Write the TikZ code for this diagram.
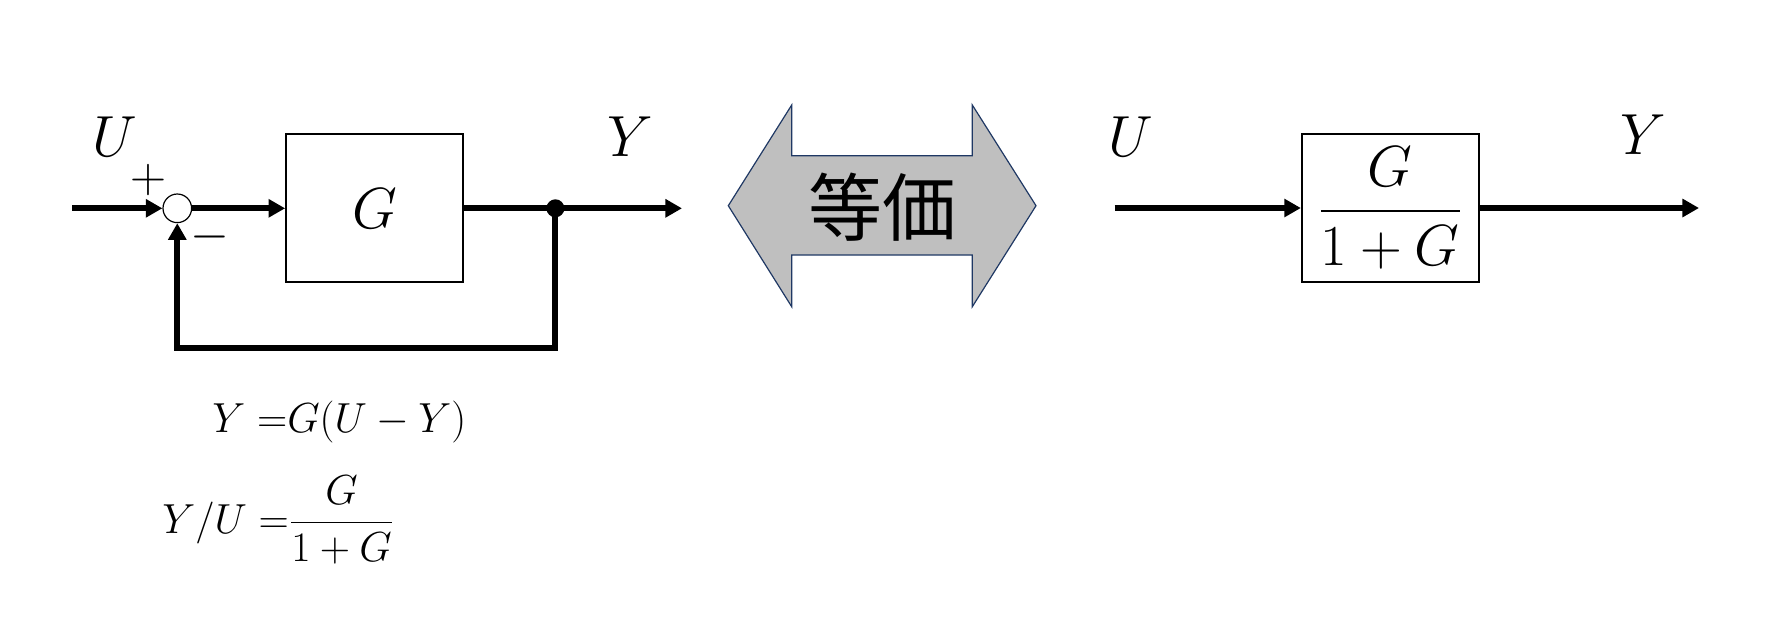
\RequirePackage{fix-cm}
\documentclass[tikz,border=0pt]{standalone}
\usepackage{amsmath}
\usepackage{fontspec}
\newfontfamily\jpfont{Noto Sans CJK JP}
\usetikzlibrary{arrows.meta}
\definecolor{arrowgray}{HTML}{BFBFBF}
\definecolor{arrowedge}{HTML}{1F3864}
\begin{document}
\begin{tikzpicture}[x=0.5pt,y=-0.5pt,
  wire/.style={line width=3pt},
  conn/.style={line width=3pt,-{Triangle[length=8.3pt,width=8.8pt]}},
  blockbox/.style={draw,line width=0.85pt,minimum width=88.5pt,minimum height=74pt,inner sep=0pt,
    font=\fontsize{29}{35}\selectfont},
  sumnode/.style={circle,draw,line width=0.6pt,minimum size=14.3pt,inner sep=0pt,fill=white},
  dotnode/.style={circle,fill=black,minimum size=9pt,inner sep=0pt},
  lbl/.style={inner sep=0pt,font=\fontsize{29}{35}\selectfont},
  sign/.style={inner sep=0pt,font=\fontsize{25}{30}\selectfont},
  eqn/.style={inner sep=0pt,anchor=base west,font=\fontsize{21}{25}\selectfont},
  cjk/.style={inner sep=0pt,font=\jpfont\fontsize{37}{40}\selectfont}
]
\useasboundingbox (0,0) rectangle (1781,629);

% left diagram
\node[sumnode] (sum) at (177.3,208.3) {};
\node[blockbox] (blk) at (374.5,208.3) {$G$};
\node[dotnode] (jn) at (555.4,208.3) {};
\coordinate (in1) at (72.4,208.3);
\coordinate (out1) at (682,208.3);
\coordinate (fbR) at (555.4,348.3);
\coordinate (fbL) at (177.3,348.3);

\draw[conn] (in1) -- (sum);
\draw[conn] (sum) -- (blk);
\draw[wire] (blk.east) -- (jn.center);
\draw[conn] (jn.center) -- (out1);
\draw[conn,line join=miter] (jn.center) -- (fbR) -- (fbL) -- (sum.south);

\node[lbl] (lU) at (114.5,137) {$U$};
\node[lbl] (lY) at (630,137) {$Y$};
\node[sign] (plus) at (148,180) {$+$};
\node[sign] (minus) at (210,237) {$-$};

\node[eqn] (eq1) at (212,432) {$Y\;\mathord{=}G(U-Y)$};
\node[eqn] (eq2) at (162,533) {$Y/U\;\mathord{=}\dfrac{G}{1+G}$};

% equivalence arrow
\draw[fill=arrowgray,draw=arrowedge,line width=0.6pt,line join=miter]
  (728.3,205.7) -- (791.7,105) -- (791.7,155.7) -- (972.3,155.7) -- (972.3,105)
  -- (1036,205.7) -- (972.3,306.7) -- (972.3,255) -- (791.7,255) -- (791.7,306.7) -- cycle;
\node[cjk] (eqv) at (882,207) {等価};

% right diagram
\node[blockbox] (blk2) at (1390.2,208) {\raisebox{-2.5pt}{$\dfrac{G}{1+G}$}};
\coordinate (in2) at (1114.5,208);
\coordinate (out2) at (1699,208);
\draw[conn] (in2) -- (blk2);
\draw[conn] (blk2) -- (out2);
\node[lbl] (rU) at (1130.5,137) {$U$};
\node[lbl] (rY) at (1643,135) {$Y$};
\end{tikzpicture}
\end{document}
